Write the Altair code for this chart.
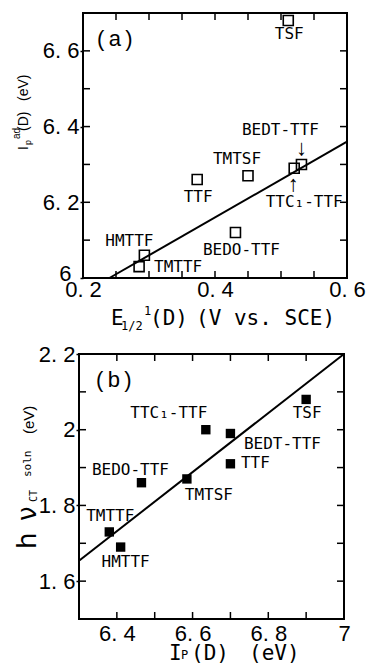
import altair as alt
import pandas as pd

SANS = "Liberation Sans"
MONO = "DejaVu Sans Mono"
DSANS = "DejaVu Sans"


# ---------------- panel (a) data ----------------
a_donor = ["TSF", "BEDT-TTF", "TTC₁-TTF", "TMTSF", "TTF", "BEDO-TTF", "HMTTF", "TMTTF"]
a_e12 = [0.511, 0.531, 0.520, 0.450, 0.373, 0.431, 0.293, 0.285]
a_ipad = [6.68, 6.30, 6.29, 6.27, 6.26, 6.12, 6.06, 6.03]
a_fit_e12 = [0.24, 0.60]
a_fit_ipad = [6.00, 6.36]
a_x_labels = [0.2, 0.4, 0.6]
a_y_labels = [6.0, 6.2, 6.4, 6.6]
a_x_ticks = [0.25, 0.30, 0.35, 0.40, 0.45, 0.50, 0.55]
a_y_ticks = [6.1, 6.2, 6.3, 6.4, 6.5, 6.6]

# ---------------- panel (b) data ----------------
b_donor = ["TSF", "TTC₁-TTF", "BEDT-TTF", "TTF", "TMTSF", "BEDO-TTF", "TMTTF", "HMTTF"]
b_ip = [6.90, 6.635, 6.70, 6.70, 6.585, 6.465, 6.38, 6.41]
b_hv = [2.08, 2.00, 1.99, 1.91, 1.87, 1.86, 1.73, 1.69]
b_fit_ip = [6.30, 7.00]
b_fit_hv = [1.654, 2.20]
b_x_labels = [6.4, 6.6, 6.8, 7.0]
b_y_labels = [1.6, 1.8, 2.0, 2.2]
b_x_ticks = [6.4, 6.5, 6.6, 6.7, 6.8, 6.9]
b_y_ticks = [1.6, 1.7, 1.8, 1.9, 2.0, 2.1]

# ---------------- styling (label offsets in px) ----------------
a_label_offset = {"TSF": (1, 13), "BEDT-TTF": (-21, -34), "TTC₁-TTF": (10, 34),
                  "TMTSF": (-11, -17), "TTF": (1, 17), "BEDO-TTF": (6, 17),
                  "HMTTF": (-15, -14), "TMTTF": (39, 0)}
a_arrows = {"BEDT-TTF": ("↓", 0, -16), "TTC₁-TTF": ("↑", -1, 16)}
b_label_offset = {"TSF": (1, 14), "TTC₁-TTF": (-37, -17), "BEDT-TTF": (52, 10),
                  "TTF": (25, -1), "TMTSF": (22, 16), "BEDO-TTF": (-11, -13),
                  "TMTTF": (1, -16), "HMTTF": (5, 15)}

# title pieces: (text, font, size, x, y, angle), x/y relative to the frame corner
a_titles = [
    ("E", MONO, 21, 28, 312, 0),
    ("1/2", MONO, 12, 38, 317, 0),
    ("1", MONO, 12, 61, 302, 0),
    ("(D)", MONO, 21, 67, 312, 0),
    ("(V vs. SCE)", MONO, 21, 113, 312, 0),
    ("I", SANS, 14, -55, 137, 270),
    ("p", SANS, 9, -52, 132, 270),
    ("ad", SANS, 10, -63, 126, 270),
    ("(D)", SANS, 14, -55, 118, 270),
    ("(eV)", SANS, 14, -55, 88, 270),
    ("(\u2009a\u2009)", SANS, 22, 14, 33, 0),
]
b_titles = [
    ("I", MONO, 21, 90, 306, 0),
    ("P", MONO, 12, 102, 305, 0),
    ("(D)", MONO, 21, 112, 306, 0),
    ("(eV)", MONO, 21, 170, 306, 0),
    ("h", DSANS, 26, -43, 195, 270),
    ("ν", DSANS, 26, -43, 167, 270),
    ("CT", MONO, 10, -42, 148, 270),
    ("soln", MONO, 11, -48, 123, 270),
    ("(eV)", SANS, 15, -45, 80, 270),
    ("(\u2009b\u2009)", SANS, 22, 17, 33, 0),
]

LABEL_EXPR = ("abs(datum.value - round(datum.value)) < 1e-6 ? format(datum.value, 'd') : "
              "replace(format(datum.value, '.1f'), '.', '. ')")


def rule(**enc):
    return alt.Chart(pd.DataFrame({"k": [0]})).mark_rule(
        color="black", strokeWidth=2, strokeCap="square").encode(**enc)


def build_panel(x_dom, y_dom, W, H, L, pts_df, fit_df, xlab, ylab, xt, yt,
                offsets, arrows, filled, xpad, titles, lift_first):
    xs = alt.Scale(domain=x_dom, nice=False, zero=False, range=[L, L + W])
    ys = alt.Scale(domain=y_dom, nice=False, zero=False)
    xax = alt.Axis(values=xlab, labelExpr=LABEL_EXPR, title=None, grid=False, domain=False,
                   ticks=False, tickSize=0, labelPadding=xpad, labelFont=SANS,
                   labelFontSize=22, labelColor="black", labelFlush=False,
                   labelOverlap=False, labelBound=False)
    ykw = dict(values=ylab, labelExpr=LABEL_EXPR, title=None, grid=False, domain=False,
               ticks=True, tickSize=3, tickColor="black", tickWidth=1.5, labelPadding=1,
               labelFont=SANS, labelFontSize=22, labelColor="black",
               labelFlush=False, labelOverlap=False, labelBound=False, offset=-L)
    if lift_first:
        test = f"datum.value == {ylab[0]}"
        ykw["labelOffset"] = alt.condition(test, alt.value(-5), alt.value(0))
        ykw["labelPadding"] = alt.condition(test, alt.value(9), alt.value(1))
    yax = alt.Axis(**ykw)
    X = alt.X("x:Q", scale=xs, axis=xax)
    Y = alt.Y("y:Q", scale=ys, axis=yax)

    layers = []
    # frame
    layers.append(rule(x=alt.value(L), y=alt.value(0), y2=alt.value(H)))
    layers.append(rule(x=alt.value(L + W), y=alt.value(0), y2=alt.value(H)))
    layers.append(rule(y=alt.value(0), x=alt.value(L), x2=alt.value(L + W)))
    layers.append(rule(y=alt.value(H), x=alt.value(L), x2=alt.value(L + W)))

    layers.append(alt.Chart(fit_df).mark_line(color="black", strokeWidth=2).encode(x=X, y=Y))
    if filled:
        pts = alt.Chart(pts_df).mark_square(size=88, color="black", opacity=1)
    else:
        pts = alt.Chart(pts_df).mark_square(size=100, filled=False, color="black",
                                            strokeWidth=1.6, opacity=1)
    layers.append(pts.encode(x=X, y=Y))
    for name, (dx, dy) in offsets.items():
        layers.append(
            alt.Chart(pts_df).transform_filter(alt.datum.name == name)
            .mark_text(dx=dx, dy=dy, font=MONO, fontSize=16, color="black",
                       align="center", baseline="middle")
            .encode(x=X, y=Y, text="name:N"))
    for name, (glyph, dx, dy) in arrows.items():
        layers.append(
            alt.Chart(pts_df).transform_filter(alt.datum.name == name)
            .transform_calculate(arrow=f"'{glyph}'")
            .mark_text(dx=dx, dy=dy, font=SANS, fontSize=22, color="black",
                       align="center", baseline="middle")
            .encode(x=X, y=Y, text="arrow:N"))
    ydf = pd.DataFrame({"y": yt})
    xdf = pd.DataFrame({"x": xt})
    layers.append(alt.Chart(ydf).mark_rule(color="black", strokeWidth=1.5)
                  .encode(y=Y, x=alt.value(L), x2=alt.value(L + 7)))
    layers.append(alt.Chart(ydf).mark_rule(color="black", strokeWidth=1.5)
                  .encode(y=Y, x=alt.value(L + W), x2=alt.value(L + W - 7)))
    layers.append(alt.Chart(xdf).mark_rule(color="black", strokeWidth=1.5)
                  .encode(x=X, y=alt.value(H), y2=alt.value(H - 7)))
    layers.append(alt.Chart(xdf).mark_rule(color="black", strokeWidth=1.5)
                  .encode(x=X, y=alt.value(0), y2=alt.value(7)))
    for text, font, size, tx, ty, ang in titles:
        kw = dict(font=font, fontSize=size, color="black", align="left", baseline="alphabetic")
        if ang:
            kw["angle"] = ang
        layers.append(alt.Chart(pd.DataFrame({"t": [text]})).mark_text(**kw)
                      .encode(text="t:N", x=alt.value(tx + L), y=alt.value(ty)))
    return alt.layer(*layers).properties(width=W + L, height=H)


a_pts = pd.DataFrame({"name": a_donor, "x": a_e12, "y": a_ipad})
a_fit = pd.DataFrame({"x": a_fit_e12, "y": a_fit_ipad})
b_pts = pd.DataFrame({"name": b_donor, "x": b_ip, "y": b_hv})
b_fit = pd.DataFrame({"x": b_fit_ip, "y": b_fit_hv})

panel_a = build_panel([0.2, 0.6], [6.0, 6.7], 264, 265, 4, a_pts, a_fit, a_x_labels,
                      a_y_labels, a_x_ticks, a_y_ticks, a_label_offset, a_arrows, False, 1,
                      a_titles, True)
panel_b = build_panel([6.3, 7.0], [1.5, 2.2], 265, 265, 0, b_pts, b_fit, b_x_labels,
                      b_y_labels, b_x_ticks, b_y_ticks, b_label_offset, {}, True, 4,
                      b_titles, False)

chart = (
    alt.vconcat(panel_a, panel_b, spacing=76, bounds="flush")
    .properties(padding={"left": 12, "top": 11, "right": 0, "bottom": 0}, background="white")
    .configure_view(strokeWidth=0)
)

chart.save("out.html", embed_options={"renderer": "svg", "actions": False})
